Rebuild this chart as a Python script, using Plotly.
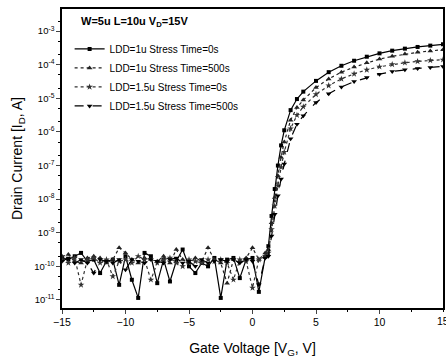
import plotly.graph_objects as go

# Gate voltage sweep (V)
v_off = [-15, -14.5, -14, -13.5, -13, -12.5, -12, -11.5, -11, -10.5, -10, -9.5, -9, -8.5, -8, -7.5,
         -7, -6.5, -6, -5.5, -5, -4.5, -4, -3.5, -3, -2.5, -2, -1.5, -1, -0.5, 0, 0.5, 1.0]
v_on = [1.25, 1.5, 1.75, 2.0, 2.25, 2.5, 3, 3.5, 4, 5, 6, 7, 8, 9, 10, 11, 12, 13, 14, 15]

# log10 of drain current (A)
logI_1u_0s_off = [-9.75, -9.8, -9.7, -9.6, -9.85, -9.8, -10.2, -9.85, -9.8, -10.55, -9.7, -10.4, -10.94, -9.6, -9.7, -10.5,
                  -9.8, -10.45, -9.85, -9.5, -10.0, -10.2, -9.9, -10.0, -9.75, -10.94, -9.8, -9.75, -10.35, -9.8, -9.75, -10.76, -9.72]
logI_1u_0s_on = [-9.4, -8.5, -7.7, -7.0, -6.4, -5.95, -5.35, -5.02, -4.8, -4.48, -4.22, -4.03, -3.88, -3.76, -3.66, -3.58, -3.52, -3.47, -3.43, -3.39]

logI_1u_500s_off = [-9.7, -9.65, -9.85, -9.9, -9.75, -9.7, -9.75, -9.9, -9.8, -9.45, -9.6, -9.8, -9.9, -9.75, -9.8, -9.85,
                    -9.7, -9.9, -9.5, -9.8, -9.9, -9.75, -9.85, -9.45, -9.8, -9.9, -10.5, -9.8, -9.85, -9.75, -9.45, -9.8, -9.6]
logI_1u_500s_on = [-9.5, -8.7, -7.95, -7.3, -6.75, -6.3, -5.65, -5.27, -5.05, -4.68, -4.42, -4.22, -4.07, -3.94, -3.83, -3.75, -3.68, -3.63, -3.59, -3.55]

logI_15u_0s_off = [-9.8, -9.9, -9.75, -10.55, -9.8, -9.75, -9.9, -9.8, -10.3, -9.85, -9.8, -9.9, -9.7, -9.8, -10.4, -9.9,
                   -9.8, -9.75, -9.9, -10.0, -9.8, -9.85, -9.9, -9.8, -9.85, -9.8, -9.9, -10.4, -9.8, -9.85, -10.64, -9.8, -9.7]
logI_15u_0s_on = [-9.6, -8.9, -8.2, -7.6, -7.05, -6.6, -5.9, -5.5, -5.25, -4.88, -4.62, -4.42, -4.27, -4.15, -4.06, -3.99, -3.94, -3.9, -3.87, -3.85]

logI_15u_500s_off = [-9.85, -9.75, -9.9, -9.8, -9.9, -10.2, -9.8, -9.85, -9.9, -9.8, -10.1, -9.8, -9.85, -9.9, -9.8, -9.85,
                     -9.9, -9.8, -9.75, -9.9, -9.85, -10.0, -9.8, -9.9, -9.85, -9.8, -9.85, -9.8, -9.9, -9.8, -9.85, -10.55, -9.75]
logI_15u_500s_on = [-9.7, -9.1, -8.45, -7.9, -7.4, -6.95, -6.2, -5.77, -5.52, -5.12, -4.86, -4.66, -4.5, -4.38, -4.28, -4.2, -4.15, -4.11, -4.08, -4.05]

series_names = ["LDD=1u Stress Time=0s", "LDD=1u Stress Time=500s",
                "LDD=1.5u Stress Time=0s", "LDD=1.5u Stress Time=500s"]
y_tick_exps = [-11, -10, -9, -8, -7, -6, -5, -4, -3]
x_ticks = [-15, -10, -5, 0, 5, 10, 15]

series = [
    (logI_1u_0s_off + logI_1u_0s_on, "solid", "square", 4, "#000000"),
    (logI_1u_500s_off + logI_1u_500s_on, "dot", "triangle-up", 5, "#222222"),
    (logI_15u_0s_off + logI_15u_0s_on, "dot", "star", 5, "#333333"),
    (logI_15u_500s_off + logI_15u_500s_on, "dash", "triangle-down", 5, "#000000"),
]

V = v_off + v_on
FONT = "Liberation Sans Narrow, Arial Narrow, Liberation Sans, Arial, sans-serif"

fig = go.Figure()
for name, (logs, dash, sym, ms, col) in zip(series_names, series):
    fig.add_trace(go.Scatter(
        x=V, y=[10 ** e for e in logs], name=name, mode="lines+markers",
        line=dict(color=col, width=1.2, dash=dash),
        marker=dict(symbol=sym, size=ms, color=col, line=dict(width=0)),
    ))

fig.update_layout(
    width=446, height=364,
    margin=dict(l=62, r=3, t=9, b=56),
    paper_bgcolor="white", plot_bgcolor="white",
    font=dict(family=FONT, color="black", size=10),
    showlegend=True,
    legend=dict(x=0.02, y=0.915, xanchor="left", yanchor="top",
                bgcolor="rgba(0,0,0,0)", font=dict(size=10, family=FONT),
                tracegroupgap=0, itemwidth=30),
    annotations=[
        dict(text="<b>W=5u L=10u V<sub>D</sub>=15V</b>", x=0.045, y=0.985,
             xref="paper", yref="paper", xanchor="left", yanchor="top",
             showarrow=False, font=dict(size=11, family=FONT)),
        dict(text=str(x_ticks[-1]), x=x_ticks[-1], y=0, xref="x", yref="paper",
             xanchor="center", yanchor="top", yshift=-5, showarrow=False,
             font=dict(size=10.5, family=FONT)),
    ],
)
fig.update_xaxes(
    range=[-15, 15], tickvals=x_ticks[:-1], ticks="outside", ticklen=4, tickwidth=1,
    showline=True, linecolor="black", linewidth=1.5, mirror=True, showgrid=False, zeroline=False,
    minor=dict(dtick=2.5, ticks="outside", ticklen=2, tickcolor="black"),
    title=dict(text="Gate Voltage [V<sub>G</sub>, V]", font=dict(size=14, family=FONT), standoff=16),
    tickfont=dict(size=10.5), automargin=False,
)
fig.update_yaxes(
    type="log", range=[-11.24, -2.34],
    tickvals=[10 ** e for e in y_tick_exps],
    ticktext=["10<sup>%d</sup>" % e for e in y_tick_exps],
    ticks="outside", ticklen=4, tickwidth=1,
    showline=True, linecolor="black", linewidth=1.5, mirror=True, showgrid=False, zeroline=False,
    minor=dict(ticks="outside", ticklen=2, tickcolor="black", showgrid=False),
    title=dict(text="Drain Current [I<sub>D</sub>, A]", font=dict(size=14, family=FONT), standoff=8),
    tickfont=dict(size=9.5), automargin=False,
)

fig.write_html("out.html", config={"displayModeBar": False},
               post_script="document.body.style.margin='0px';document.body.style.overflow='hidden';")
